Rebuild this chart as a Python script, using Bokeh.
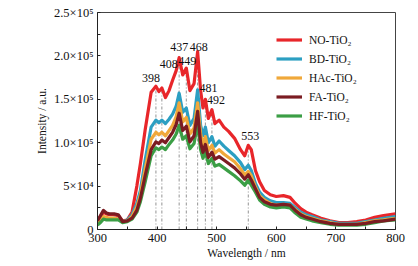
from bokeh.plotting import figure
from bokeh.models import ColumnDataSource, FixedTicker, Legend, LegendItem
from bokeh.core.properties import value
from bokeh.embed import file_html
from bokeh.resources import INLINE

# ---- data (intensity in counts) ----
wavelength = [300, 305, 310, 315, 320, 328, 335, 342, 350, 358, 366, 372, 380, 390, 398, 403, 408,
              414, 420, 426, 432, 437, 443, 449, 455, 462, 468, 473, 477, 481, 486, 492, 497, 504,
              512, 520, 530, 540, 547, 553, 558, 565, 572, 580, 590, 600, 612, 623, 632, 641, 650,
              660, 675, 690, 705, 720, 735, 750, 765, 780, 800]

no_tio2 = [10, 15, 20, 18, 17, 17, 16, 10, 11, 20, 50, 76, 115, 158, 165, 159, 163,
           152, 160, 172, 183, 198, 178, 186, 160, 168, 205, 160, 140, 150, 128, 138, 122, 126,
           118, 113, 105, 92, 85, 97, 92, 68, 55, 45, 40, 38, 39, 37, 30, 24, 20,
           17, 13, 10, 8, 8, 9, 11, 14, 16, 18]
bd_tio2 = [6, 10, 14, 13, 12, 13, 12, 9, 11, 17, 30, 45, 80, 118, 126, 123, 126,
           122, 127, 133, 142, 157, 135, 140, 120, 128, 161, 120, 108, 118, 100, 107, 96, 102,
           96, 91, 85, 77, 69, 74, 68, 53, 43, 37, 33, 31, 31, 30, 25, 20, 17,
           15, 11, 9, 7, 7, 7, 9, 11, 13, 15]
hac_tio2 = [7, 11, 15, 14, 13, 13, 12, 9, 10, 15, 26, 40, 70, 104, 112, 109, 112,
            108, 114, 120, 130, 146, 124, 129, 110, 117, 146, 110, 98, 107, 91, 97, 88, 92,
            87, 83, 78, 70, 63, 67, 62, 49, 39, 34, 30, 28, 29, 28, 23, 18, 15,
            13, 10, 8, 6, 6, 6, 8, 10, 11, 13]
fa_tio2 = [10, 16, 22, 19, 18, 18, 17, 9, 10, 13, 22, 36, 62, 92, 101, 99, 103,
           100, 106, 112, 121, 134, 114, 119, 101, 108, 136, 100, 89, 98, 83, 89, 81, 84,
           80, 76, 71, 64, 58, 63, 57, 47, 37, 32, 29, 28, 29, 28, 22, 17, 14,
           12, 9, 7, 6, 6, 6, 7, 9, 10, 12]
hf_tio2 = [5, 8, 12, 11, 11, 11, 11, 8, 9, 12, 20, 32, 55, 85, 94, 92, 95,
           92, 98, 103, 110, 120, 104, 108, 93, 99, 122, 92, 82, 90, 76, 82, 73, 75,
           71, 67, 62, 56, 51, 57, 51, 43, 34, 29, 26, 25, 26, 25, 19, 14, 12,
           10, 8, 6, 5, 5, 5, 6, 8, 10, 11]
scale = 1000

series_names = ["NO-TiO\u2082", "BD-TiO\u2082", "HAc-TiO\u2082", "FA-TiO\u2082", "HF-TiO\u2082"]
series_values = [no_tio2, bd_tio2, hac_tio2, fa_tio2, hf_tio2]

peaks = [398, 408, 437, 449, 468, 481, 492, 553]

x_ticks = [300, 400, 500, 600, 700, 800]
x_minor = [350, 450, 550, 650, 750]
y_ticks = [0, 50000, 100000, 150000, 200000, 250000]
y_minor = [25000, 75000, 125000, 175000, 225000]
y_tick_labels = ["0", "5\u00d710\u2074", "1.0\u00d710\u2075", "1.5\u00d710\u2075",
                 "2.0\u00d710\u2075", "2.5\u00d710\u2075"]

# ---- styles ----
colors = ["#e8262a", "#2c9fc2", "#f0a83a", "#7b1c22", "#3b9e45"]
draw_order = [0, 1, 2, 4, 3]
label_dx = [-5, 7, 0, 1, 1, 3, 4, 2]
label_dy = [-8, -24, -11, -7, -5, -11, -10, -9]
FONT = "Liberation Serif"

p = figure(width=410, height=264, x_range=(300, 800), y_range=(0, 250000),
           output_backend="svg", toolbar_location=None,
           min_border_left=97, min_border_right=15, min_border_top=12, min_border_bottom=35)
p.xgrid.visible = False
p.ygrid.visible = False
p.outline_line_color = "#444444"
p.outline_line_width = 1
p.background_fill_color = "white"

# vertical guide lines at peaks
red_at_peaks = [no_tio2[wavelength.index(w)] * scale for w in peaks]
p.segment(x0=peaks, y0=[0] * len(peaks), x1=peaks, y1=red_at_peaks,
          line_color="#777777", line_width=0.8, line_dash="3 2 1 2")

renderers = {}
for i in draw_order:
    ys = [v * scale for v in series_values[i]]
    renderers[i] = p.line(wavelength, ys, line_color=colors[i], line_width=3.2,
                          line_join="round")

# peak labels
src = ColumnDataSource(dict(x=peaks, y=red_at_peaks, t=[str(w) for w in peaks],
                            dx=label_dx, dy=label_dy))
p.text(x="x", y="y", text="t", x_offset="dx", y_offset="dy", source=src,
       text_font=value(FONT), text_font_size="12px", text_align="center",
       text_baseline="middle", text_color="#111111")

legend = Legend(items=[LegendItem(label=series_names[i], renderers=[renderers[i]])
                       for i in range(5)],
                location=(179, 104))
legend.border_line_color = None
legend.background_fill_alpha = 0
legend.padding = 0
legend.margin = 0
legend.spacing = 0
legend.glyph_width = 26
legend.glyph_height = 19
legend.label_height = 19
legend.label_standoff = 7
legend.label_text_font = FONT
legend.label_text_font_size = "11.5px"
legend.label_text_color = "#111111"
p.add_layout(legend, "center")

# axes
p.xaxis.ticker = FixedTicker(ticks=x_ticks, minor_ticks=x_minor)
p.yaxis.ticker = FixedTicker(ticks=y_ticks, minor_ticks=y_minor)
p.yaxis.major_label_overrides = {t: l for t, l in zip(y_ticks, y_tick_labels)}
for ax in (p.xaxis, p.yaxis):
    ax.major_tick_in = 3
    ax.major_tick_out = 0
    ax.minor_tick_in = 3
    ax.minor_tick_out = 0
    ax.axis_line_color = "#222222"
    ax.major_tick_line_color = "#222222"
    ax.minor_tick_line_color = "#222222"
    ax.major_label_text_font = FONT
    ax.major_label_text_font_size = "12.5px"
    ax.major_label_text_color = "#111111"
    ax.axis_label_text_font = FONT
    ax.axis_label_text_font_size = "11.5px"
    ax.axis_label_text_font_style = "normal"
    ax.axis_label_text_color = "#111111"
p.xaxis.axis_label = "Wavelength / nm"
p.yaxis.axis_label = "Intensity / a.u."
p.xaxis.major_label_standoff = 4
p.xaxis.axis_label_standoff = 2
p.yaxis.major_label_standoff = 4
p.yaxis.axis_label_standoff = 3

open("out.html", "w").write(file_html(p, INLINE))
